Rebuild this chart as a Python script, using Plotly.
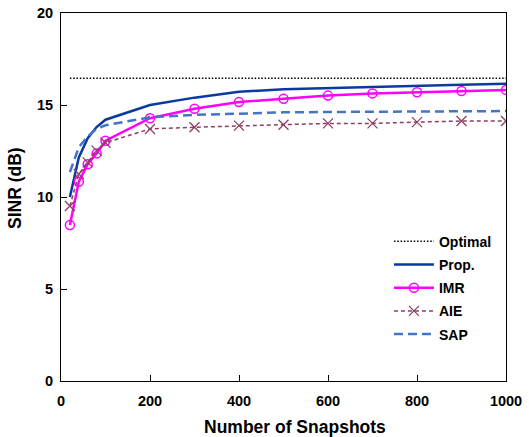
import plotly.graph_objects as go

snapshots = [20, 40, 60, 80, 100, 200, 300, 400, 500, 600, 700, 800, 900, 1000]
optimal = [16.45] * len(snapshots)
prop = [10.0, 12.15, 13.2, 13.8, 14.2, 15.0, 15.4, 15.72, 15.85, 15.92, 15.98, 16.04, 16.1, 16.15]
imr = [8.48, 10.83, 11.78, 12.37, 13.06, 14.28, 14.8, 15.16, 15.34, 15.51, 15.63, 15.69, 15.76, 15.82]
aie = [9.51, 11.25, 11.88, 12.52, 12.95, 13.7, 13.79, 13.88, 13.93, 14.0, 14.0, 14.07, 14.13, 14.13]
sap = [11.35, 12.7, 13.3, 13.7, 13.9, 14.33, 14.46, 14.53, 14.6, 14.62, 14.63, 14.64, 14.65, 14.67]

fig = go.Figure()
fig.add_trace(go.Scatter(x=snapshots, y=optimal, mode="lines", name="Optimal", legendgroup="a",
                         line=dict(color="black", width=1.5, dash="1.5px,1.8px")))
fig.add_trace(go.Scatter(x=snapshots, y=prop, mode="lines", name="Prop.", legendgroup="b",
                         line=dict(color="#0A3AA0", width=2.5)))
fig.add_trace(go.Scatter(x=snapshots, y=imr, mode="lines+markers", name="IMR", legendgroup="c",
                         line=dict(color="#FF00FF", width=2.5),
                         marker=dict(symbol="circle-open", size=9, color="#FF00FF", line=dict(width=1.5))))
fig.add_trace(go.Scatter(x=snapshots, y=aie, mode="lines+markers", name="AIE", legendgroup="d",
                         line=dict(color="#8E3F66", width=1.5, dash="4px,3px"),
                         marker=dict(symbol="x-thin-open", size=10, color="#8E3F66", line=dict(width=1.3, color="#8E3F66"))))
fig.add_trace(go.Scatter(x=snapshots, y=sap, mode="lines", name="SAP", legendgroup="e",
                         line=dict(color="#4474C4", width=2.5, dash="9px,5px")))

font_family = "Liberation Sans, Arial, sans-serif"
fig.update_layout(
    width=529, height=437,
    margin=dict(l=61, r=23, t=13, b=56),
    plot_bgcolor="white", paper_bgcolor="white",
    font=dict(family=font_family, size=14, color="black"),
    showlegend=True,
    legend=dict(x=0.737, y=0.422, xanchor="left", yanchor="top",
                bgcolor="rgba(0,0,0,0)", borderwidth=0,
                font=dict(family=font_family, size=14, color="black", weight="bold"),
                tracegroupgap=2, itemwidth=40),
    annotations=[
        dict(text="<b>Number of Snapshots</b>", xref="paper", yref="paper",
             x=(295 - 61) / 445, y=(381 - 427) / 368, xanchor="center", yanchor="middle",
             showarrow=False, font=dict(size=17.5)),
        dict(text="<b>SINR (dB)</b>", xref="paper", yref="paper", textangle=-90,
             x=(15 - 61) / 445, y=(381 - 188) / 368, xanchor="center", yanchor="middle",
             showarrow=False, font=dict(size=17.5)),
    ],
)
fig.update_xaxes(range=[0, 1000], tickvals=[0, 200, 400, 600, 800, 1000], automargin=False,
                 showgrid=False, zeroline=False, showline=True, linecolor="black", linewidth=1,
                 mirror=True, ticks="inside", ticklen=6, tickcolor="black", ticklabelstandoff=7,
                 tickfont=dict(size=14.5, weight="bold"))
fig.update_yaxes(range=[0, 20], tickvals=[0, 5, 10, 15, 20], automargin=False,
                 showgrid=False, zeroline=False, showline=True, linecolor="black", linewidth=1,
                 mirror=True, ticks="inside", ticklen=6, tickcolor="black", ticklabelstandoff=4,
                 tickfont=dict(size=14.5, weight="bold"))

fig.write_html("out.html")
